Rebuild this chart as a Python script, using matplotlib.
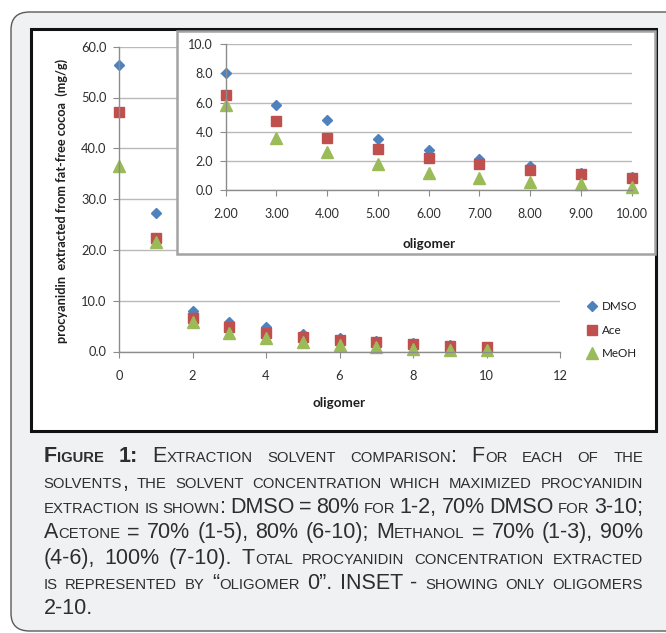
import matplotlib
matplotlib.use("Agg")
import matplotlib.pyplot as plt
from matplotlib.patches import Rectangle, FancyBboxPatch

# data
oligomer = [0, 1, 2, 3, 4, 5, 6, 7, 8, 9, 10]
dmso = [56.3, 27.3, 8.0, 5.8, 4.8, 3.5, 2.75, 2.1, 1.65, 1.2, 0.9]
ace = [47.1, 22.4, 6.5, 4.75, 3.55, 2.8, 2.2, 1.8, 1.4, 1.1, 0.8]
meoh = [36.6, 21.6, 5.8, 3.6, 2.6, 1.8, 1.2, 0.8, 0.55, 0.38, 0.22]
series_names = ["DMSO", "Ace", "MeOH"]

main_yticks = [0, 10, 20, 30, 40, 50, 60]
main_xticks = [0, 2, 4, 6, 8, 10, 12]
inset_yticks = [0, 2, 4, 6, 8, 10]
inset_xticks = [2, 3, 4, 5, 6, 7, 8, 9, 10]

ylabel = "procyanidin  extracted from fat-free cocoa  (mg/g)"
xlabel = "oligomer"

caption_lines = [
    "Figure 1: Extraction solvent comparison: For each of the",
    "solvents, the solvent concentration which maximized procyanidin",
    "extraction is shown: DMSO = 80% for 1-2, 70% DMSO for 3-10;",
    "Acetone = 70% (1-5), 80% (6-10); Methanol = 70% (1-3), 90%",
    "(4-6), 100% (7-10). Total procyanidin concentration extracted",
    "is represented by \u201coligomer 0\u201d. INSET - showing only oligomers",
    "2-10.",
]

W, H = 666, 633
COLORS = ["#4F81BD", "#C0504D", "#9BBB59"]
MARKERS = [("D", 5.0), ("s", 7.6), ("^", 8.4)]
GRID = "#b9b9b9"
AXIS = "#8c8c8c"
TXT = "#2e2e2e"
CHART_FONT = ["Lato", "DejaVu Sans"]


def fx(x):
    return x / W


def fy(y):
    return 1 - y / H


def rect(l, t, r, b):
    return [fx(l), fy(b), fx(r) - fx(l), fy(t) - fy(b)]


plt.rcParams["font.family"] = CHART_FONT
fig = plt.figure(figsize=(W / 100, H / 100), dpi=100)
fig.patch.set_facecolor("white")

# outer rounded panel
fig.patches.append(FancyBboxPatch((fx(11), fy(631)), fx(700) - fx(11), fy(12) - fy(631),
                                  boxstyle="round,pad=0,rounding_size=0.028",
                                  transform=fig.transFigure, facecolor="#f0f1f3",
                                  edgecolor="#5a5a5a", lw=1.0, zorder=-10))
# black chart frame
fig.patches.append(Rectangle((fx(31), fy(431)), fx(656) - fx(31), fy(29) - fy(431),
                             transform=fig.transFigure, facecolor="white",
                             edgecolor="#111111", lw=2.2, zorder=-5))

# main chart
ax = fig.add_axes(rect(119, 46.7, 560, 351.5))
ax.set_facecolor("none")
for vals, c, (m, ms), name in zip([dmso, ace, meoh], COLORS, MARKERS, series_names):
    ax.plot(oligomer, vals, linestyle="none", marker=m, ms=ms, color=c,
            markeredgecolor=c, label=name, clip_on=False)
ax.set_xlim(0, 12)
ax.set_ylim(0, 60)
ax.set_yticks(main_yticks)
ax.set_yticklabels([f"{v:.1f}" for v in main_yticks])
ax.set_xticks(main_xticks)
ax.set_xticklabels([str(v) for v in main_xticks])
ax.yaxis.grid(True, color=GRID, lw=1.0)
ax.set_axisbelow(True)
for s in ["top", "right"]:
    ax.spines[s].set_visible(False)
for s in ["left", "bottom"]:
    ax.spines[s].set_color(AXIS)
    ax.spines[s].set_linewidth(1.0)
ax.tick_params(axis="y", length=4, color=AXIS, pad=5, labelsize=9.3, labelcolor=TXT)
ax.tick_params(axis="x", length=4, color=AXIS, pad=9, labelsize=9.3, labelcolor=TXT)
ax.set_xlabel(xlabel, fontsize=9.6, fontweight="bold", color="#1e1e1e", labelpad=11)
fig.text(fx(62), fy(201), ylabel, rotation=90, ha="center", va="center",
         fontsize=9.2, fontweight="bold", color="#1e1e1e")
ax.legend(loc="upper left", bbox_to_anchor=(fx(587.5), fy(301.5)),
          bbox_transform=fig.transFigure, frameon=False, borderpad=0,
          handlelength=0.8, handletextpad=0.4, labelspacing=1.07,
          prop={"size": 8.4}, labelcolor="#1e1e1e", borderaxespad=0)

# inset box
fig.patches.append(Rectangle((fx(177), fy(254)), fx(655) - fx(177), fy(31) - fy(254),
                             transform=fig.transFigure, facecolor="white",
                             edgecolor="#a3a3a3", lw=1.8, zorder=1))

axi = fig.add_axes(rect(225.7, 44.3, 631.7, 190))
axi.set_zorder(2)
axi.set_facecolor("none")
for vals, c, (m, ms) in zip([dmso, ace, meoh], COLORS, MARKERS):
    axi.plot(oligomer[2:], vals[2:], linestyle="none", marker=m, ms=ms, color=c,
             markeredgecolor=c, clip_on=False)
axi.set_xlim(2, 10)
axi.set_ylim(0, 10)
axi.set_yticks(inset_yticks)
axi.set_yticklabels([f"{v:.1f}" for v in inset_yticks])
axi.set_xticks(inset_xticks)
axi.set_xticklabels([f"{v:.2f}" for v in inset_xticks])
axi.yaxis.grid(True, color=GRID, lw=1.0)
axi.set_axisbelow(True)
for s in ["top", "right"]:
    axi.spines[s].set_visible(False)
for s in ["left", "bottom"]:
    axi.spines[s].set_color(AXIS)
    axi.spines[s].set_linewidth(1.0)
axi.tick_params(axis="y", length=4, color=AXIS, pad=5, labelsize=9, labelcolor=TXT)
axi.tick_params(axis="x", length=4, color=AXIS, pad=9, labelsize=9, labelcolor=TXT)
axi.set_xlabel(xlabel, fontsize=9.6, fontweight="bold", color="#1e1e1e", labelpad=13)

# caption in small caps, justified
renderer = fig.canvas.get_renderer()
BIG, SMALL = 15.5, 10.7
CAP_FONT = ["Liberation Sans", "DejaVu Sans"]
left, right = 43.5, 643
base0, step = 462.5, 25.3


def runs_of(word):
    out = []
    for ch in word:
        if ch.islower():
            item = (ch.upper(), SMALL)
        else:
            item = (ch, BIG)
        if out and out[-1][1] == item[1]:
            out[-1] = (out[-1][0] + item[0], item[1])
        else:
            out.append(item)
    return out


def width_px(s, size, weight):
    t = fig.text(0, 0, s, fontsize=size, family=CAP_FONT, fontweight=weight)
    w = t.get_window_extent(renderer).width
    t.remove()
    return w


space_w = width_px("a a", BIG, "normal") - width_px("aa", BIG, "normal")
for i, line in enumerate(caption_lines):
    words = line.split(" ")
    laid = []
    for j, wd in enumerate(words):
        weight = "bold" if (i == 0 and j < 2) else "normal"
        parts = []
        for s, size in runs_of(wd):
            parts.append((s, size, weight, width_px(s, size, weight)))
        wsum = sum(p[3] for p in parts)
        laid.append((parts, wsum))
    total = sum(w for _, w in laid)
    if i < len(caption_lines) - 1 and len(laid) > 1:
        gap = (right - left - total) / (len(laid) - 1)
    else:
        gap = space_w
    x = left
    y = base0 + i * step
    for parts, wsum in laid:
        xx = x
        for s, size, weight, w in parts:
            fig.text(fx(xx), fy(y), s, fontsize=size, family=CAP_FONT,
                     fontweight=weight, color="#2e2e2e", va="baseline", ha="left")
            xx += w
        x += wsum + gap

fig.savefig("out.png", dpi=100)
